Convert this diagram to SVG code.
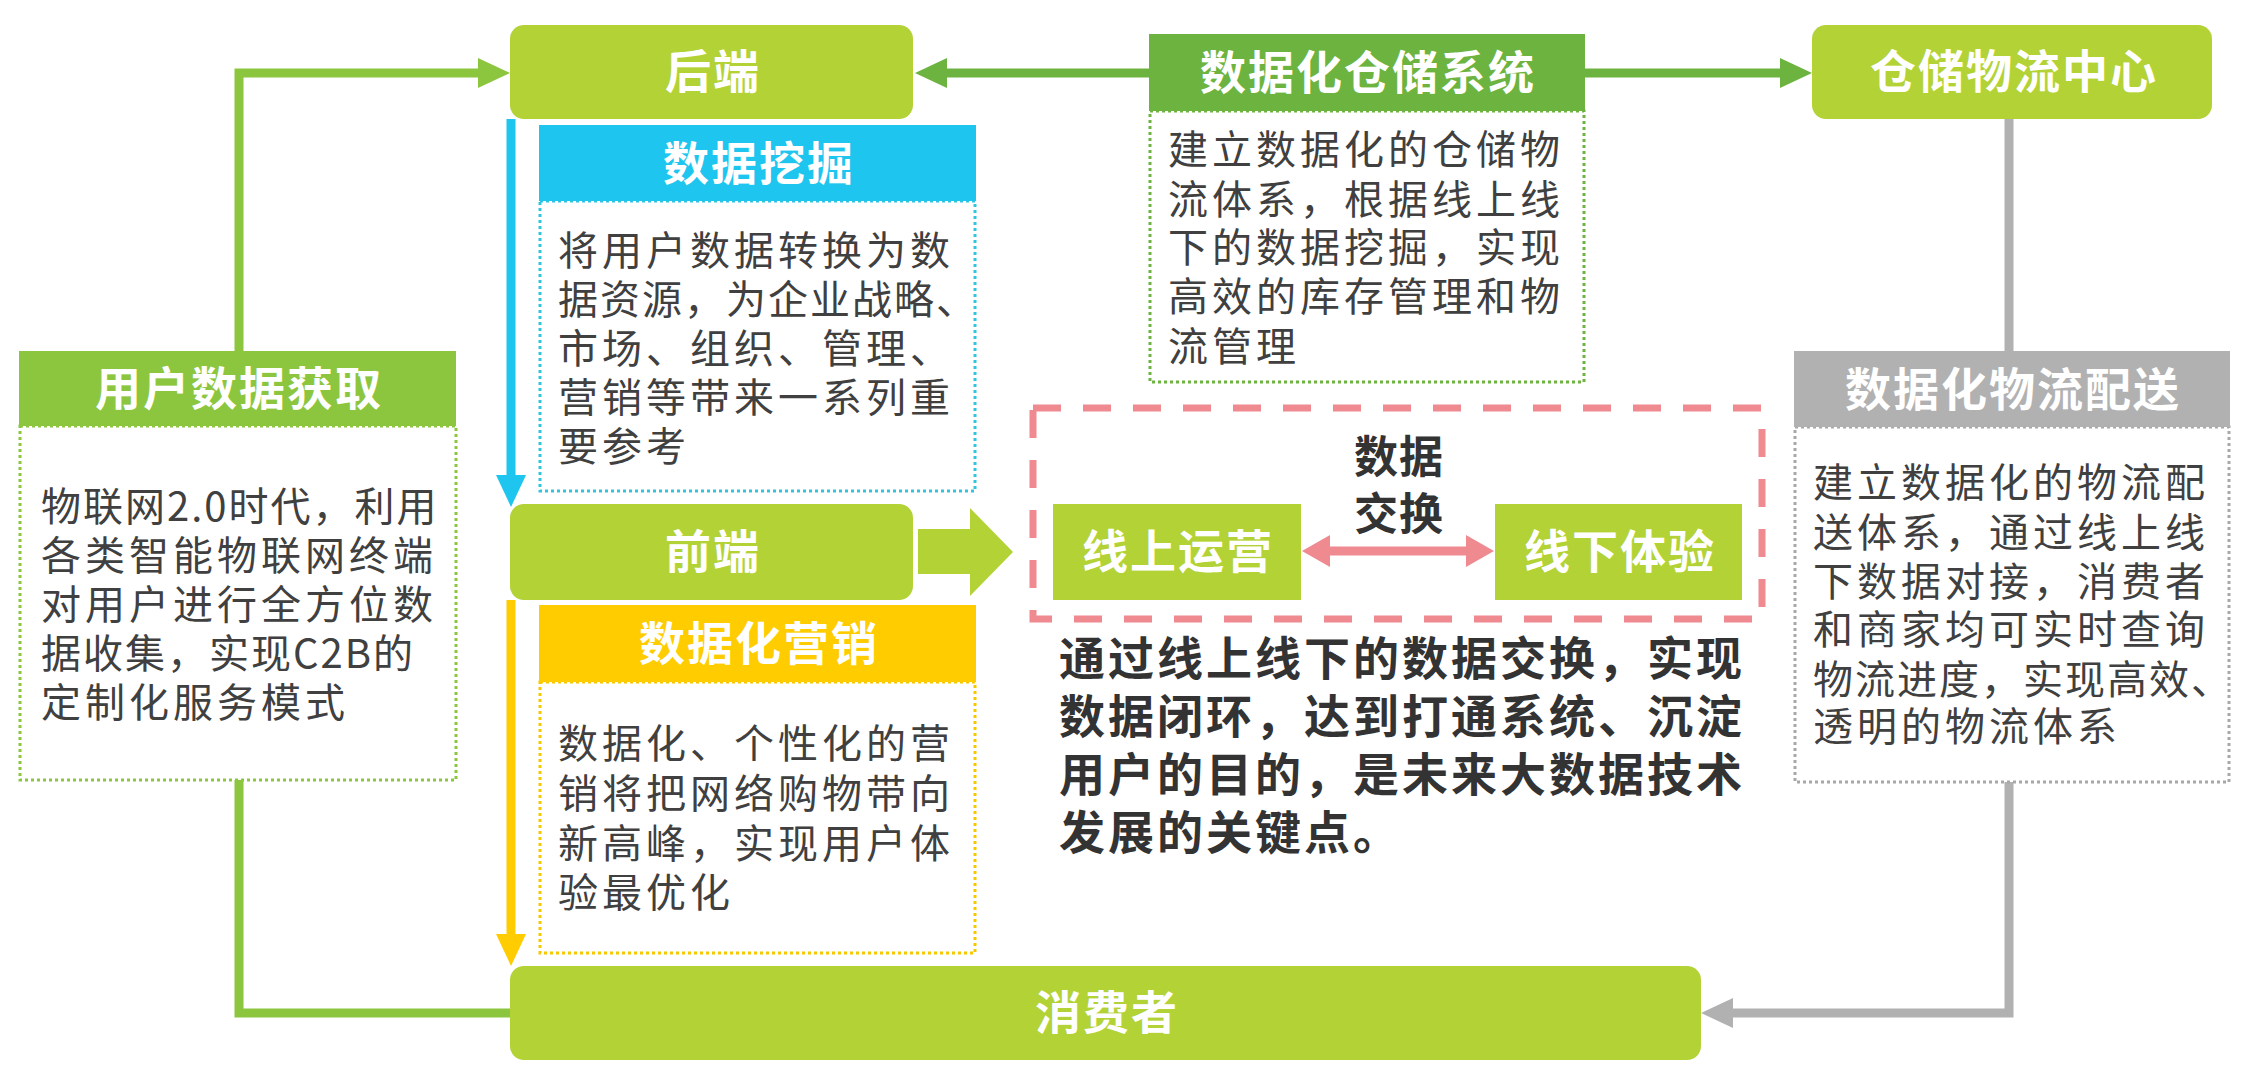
<svg xmlns="http://www.w3.org/2000/svg" width="2242" height="1089" viewBox="0 0 2242 1089">
  <style>
    text { font-family: "Noto Sans CJK SC", "Noto Sans", sans-serif; }
    .hd { font-size: 46px; font-weight: bold; fill: #ffffff; text-anchor: middle; letter-spacing: 2px; }
    .bd { font-size: 40px; fill: #404040; letter-spacing: 4px; }
    .bold { font-size: 46px; font-weight: bold; fill: #333333; letter-spacing: 3px; }
    .lime { fill: #b3d236; }
    .body { fill: #ffffff; stroke-width: 3; stroke-dasharray: 3 3; }
    .ln { fill: none; stroke-width: 9; }
    .tight { letter-spacing: 2px; }
  </style>
  <defs>
    <marker id="mGreen" markerUnits="userSpaceOnUse" viewBox="0 0 32 30" refX="0" refY="15" markerWidth="32" markerHeight="30" orient="auto"><path d="M0,0 L32,15 L0,30 z" fill="#8cc63f"/></marker>
    <marker id="mDark" markerUnits="userSpaceOnUse" viewBox="0 0 32 30" refX="0" refY="15" markerWidth="32" markerHeight="30" orient="auto"><path d="M0,0 L32,15 L0,30 z" fill="#6db33f"/></marker>
    <marker id="mBlue" markerUnits="userSpaceOnUse" viewBox="0 0 32 30" refX="0" refY="15" markerWidth="32" markerHeight="30" orient="auto"><path d="M0,0 L32,15 L0,30 z" fill="#1dc5ef"/></marker>
    <marker id="mYellow" markerUnits="userSpaceOnUse" viewBox="0 0 32 30" refX="0" refY="15" markerWidth="32" markerHeight="30" orient="auto"><path d="M0,0 L32,15 L0,30 z" fill="#ffcc00"/></marker>
    <marker id="mGray" markerUnits="userSpaceOnUse" viewBox="0 0 32 30" refX="0" refY="15" markerWidth="32" markerHeight="30" orient="auto"><path d="M0,0 L32,15 L0,30 z" fill="#b1b1b1"/></marker>
    <marker id="mPink" markerUnits="userSpaceOnUse" viewBox="0 0 28 32" refX="0" refY="16" markerWidth="28" markerHeight="32" orient="auto-start-reverse"><path d="M0,0 L28,16 L0,32 z" fill="#ee8a90"/></marker>
  </defs>
  <rect width="2242" height="1089" fill="#ffffff"/>

  <g id="connectors">
    <path class="ln" stroke="#8cc63f" d="M239,351 V73 H478" marker-end="url(#mGreen)"/>
    <path class="ln" stroke="#8cc63f" d="M239,780 V1013 H512"/>
    <path class="ln" stroke="#6db33f" d="M1149,73 H947" marker-end="url(#mDark)"/>
    <path class="ln" stroke="#6db33f" d="M1584,73 H1780" marker-end="url(#mDark)"/>
    <path class="ln" stroke="#1dc5ef" d="M511,119 V475" marker-end="url(#mBlue)"/>
    <path class="ln" stroke="#ffcc00" d="M511,600 V934" marker-end="url(#mYellow)"/>
    <path class="ln" stroke="#b1b1b1" d="M2009,119 V351"/>
    <path class="ln" stroke="#b1b1b1" d="M2009,782 V1013 H1733" marker-end="url(#mGray)"/>
    <path class="ln" stroke="#ee8a90" d="M1330,551 H1466" marker-start="url(#mPink)" marker-end="url(#mPink)"/>
    <polygon class="lime" points="918,529 970,529 970,508 1013,552 970,596 970,574 918,574"/>
  </g>

  <g id="node-exchange">
    <rect x="1033" y="408" width="729" height="211" fill="none" stroke="#ee8a90" stroke-width="7" stroke-dasharray="28 22"/>
    <text class="bold" text-anchor="middle" style="font-size:44px;letter-spacing:1px"><tspan x="1399" y="473">数据</tspan><tspan x="1399" y="530">交换</tspan></text>
  </g>

  <g id="node-user-data">
    <rect class="body" x="20" y="426" width="436" height="354" stroke="#8cc63f"/>
    <rect x="19" y="351" width="437" height="75" fill="#8cc63f"/>
    <text class="hd" x="239" y="405">用户数据获取</text>
    <text class="bd"><tspan class="tight" x="41" y="521">物联网2.0时代，利用</tspan><tspan x="41" y="570">各类智能物联网终端</tspan><tspan x="41" y="619">对用户进行全方位数</tspan><tspan class="tight" x="41" y="668">据收集，实现C2B的</tspan><tspan x="41" y="717">定制化服务模式</tspan></text>
  </g>

  <g id="node-backend">
    <rect class="lime" x="510" y="25" width="403" height="94" rx="14"/>
    <text class="hd" x="713" y="88">后端</text>
  </g>

  <g id="node-mining">
    <rect class="body" x="540" y="201" width="435" height="290" stroke="#33c4dd"/>
    <rect x="539" y="125" width="437" height="76" fill="#1dc5ef"/>
    <text class="hd" x="759" y="180">数据挖掘</text>
    <text class="bd"><tspan x="558" y="265">将用户数据转换为数</tspan><tspan class="tight" x="558" y="314">据资源，为企业战略、</tspan><tspan x="558" y="363">市场、组织、管理、</tspan><tspan x="558" y="412">营销等带来一系列重</tspan><tspan x="558" y="461">要参考</tspan></text>
  </g>

  <g id="node-frontend">
    <rect class="lime" x="510" y="504" width="403" height="96" rx="14"/>
    <text class="hd" x="713" y="568">前端</text>
  </g>

  <g id="node-marketing">
    <rect class="body" x="540" y="682" width="435" height="271" stroke="#f5c800"/>
    <rect x="539" y="605" width="437" height="77" fill="#ffcc00"/>
    <text class="hd" x="759" y="660">数据化营销</text>
    <text class="bd"><tspan x="558" y="758">数据化、个性化的营</tspan><tspan x="558" y="808">销将把网络购物带向</tspan><tspan x="558" y="858">新高峰，实现用户体</tspan><tspan x="558" y="907">验最优化</tspan></text>
  </g>

  <g id="node-consumer">
    <rect class="lime" x="510" y="966" width="1191" height="94" rx="14"/>
    <text class="hd" x="1107" y="1029">消费者</text>
  </g>

  <g id="node-warehouse-system">
    <rect class="body" x="1150" y="111" width="434" height="271" stroke="#6db33f"/>
    <rect x="1149" y="34" width="436" height="77" fill="#6db33f"/>
    <text class="hd" x="1368" y="89">数据化仓储系统</text>
    <text class="bd"><tspan x="1168" y="164">建立数据化的仓储物</tspan><tspan x="1168" y="214">流体系，根据线上线</tspan><tspan x="1168" y="262">下的数据挖掘，实现</tspan><tspan x="1168" y="311">高效的库存管理和物</tspan><tspan x="1168" y="361">流管理</tspan></text>
  </g>

  <g id="node-logistics-center">
    <rect class="lime" x="1812" y="25" width="400" height="94" rx="14"/>
    <text class="hd" x="2014" y="88">仓储物流中心</text>
  </g>

  <g id="node-delivery">
    <rect class="body" x="1795" y="427" width="434" height="355" stroke="#a8a8a8"/>
    <rect x="1794" y="351" width="436" height="76" fill="#b1b1b1"/>
    <text class="hd" x="2013" y="406">数据化物流配送</text>
    <text class="bd"><tspan x="1813" y="497">建立数据化的物流配</tspan><tspan x="1813" y="547">送体系，通过线上线</tspan><tspan x="1813" y="596">下数据对接，消费者</tspan><tspan x="1813" y="644">和商家均可实时查询</tspan><tspan class="tight" x="1813" y="694">物流进度，实现高效、</tspan><tspan x="1813" y="741">透明的物流体系</tspan></text>
  </g>

  <g id="node-online">
    <rect class="lime" x="1053" y="504" width="248" height="96"/>
    <text class="hd" x="1178" y="568">线上运营</text>
  </g>

  <g id="node-offline">
    <rect class="lime" x="1495" y="504" width="247" height="96"/>
    <text class="hd" x="1620" y="568">线下体验</text>
  </g>

  <g id="node-summary">
    <text class="bold"><tspan x="1059" y="675">通过线上线下的数据交换，实现</tspan><tspan x="1059" y="733">数据闭环，达到打通系统、沉淀</tspan><tspan x="1059" y="791">用户的目的，是未来大数据技术</tspan><tspan x="1059" y="849">发展的关键点。</tspan></text>
  </g>
</svg>
